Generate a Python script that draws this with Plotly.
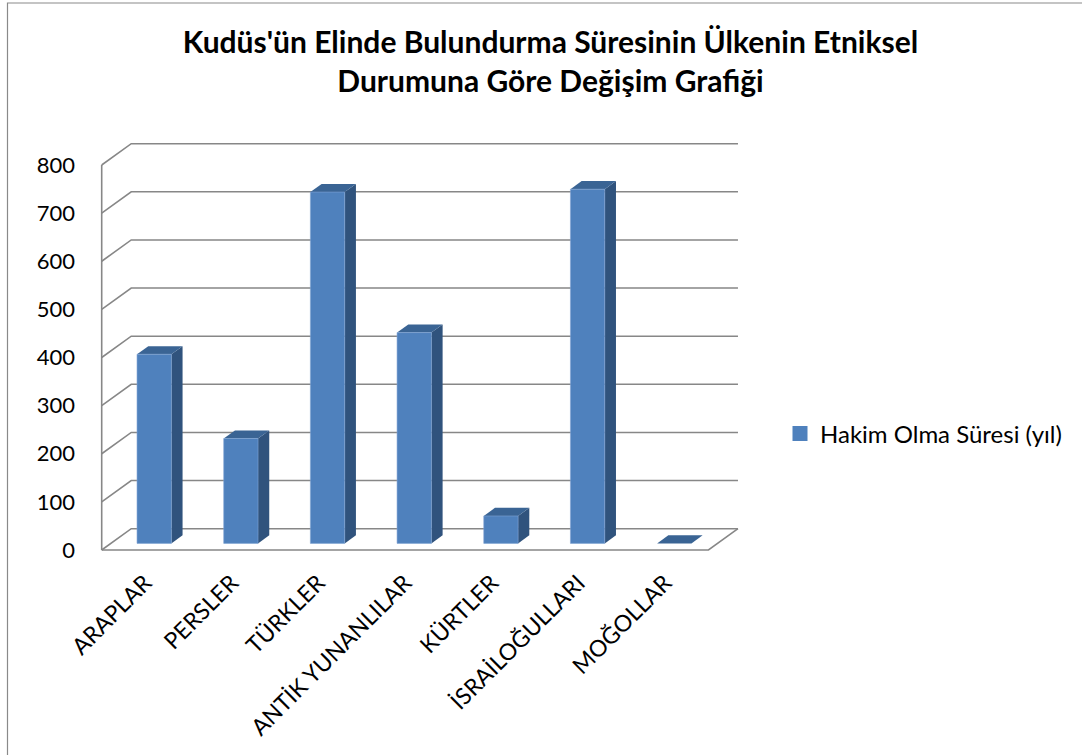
import plotly.graph_objects as go

# ---- data ----
categories = ["ARAPLAR", "PERSLER", "TÜRKLER", "ANTİK YUNANLILAR", "KÜRTLER", "İSRAİLOĞULLARI", "MOĞOLLAR"]
values = [393, 218, 730, 438, 57, 736, 0]
series_name = "Hakim Olma Süresi (yıl)"
y_ticks = [0, 100, 200, 300, 400, 500, 600, 700, 800]
title_lines = ["Kudüs'ün Elinde Bulundurma Süresinin Ülkenin Etniksel", "Durumuna Göre Değişim Grafiği"]

# ---- styling / geometry ----
W, H = 1082, 755
FONT = "Lato"
GRID = "#878787"
FRONT = "#4F81BD"
SIDE = "#30537D"
TOP = "#3A6494"

n = len(categories)
YMAX = y_ticks[-1]
DX = 0.3406   # depth offset in category units
DY = 44.3     # depth offset in value units
BAR_W = 0.396
F0, DEPTH = 0.31, 0.38

# pixel calibration
ML, MR, MT, MB = 92, 334, 136, 198
X0PX, PX_PER_SLOT = 101.7, 86.68
Y0PX, PX_PER_UNIT = 550.0, 0.48125
plot_l, plot_r = ML, W - MR
plot_t, plot_b = MT, H - MB
xr = [(plot_l - X0PX) / PX_PER_SLOT, (plot_r - X0PX) / PX_PER_SLOT]
yr = [(Y0PX - plot_b) / PX_PER_UNIT, (Y0PX - plot_t) / PX_PER_UNIT]

fig = go.Figure()

# walls / grid
gx, gy = [], []
for v in y_ticks:
    gx += [0, DX, n + DX, None]
    gy += [v, v + DY, v + DY, None]
gx += [0, 0, None, 0, n, n + DX, None]
gy += [0, YMAX, None, 0, 0, DY, None]
fig.add_trace(go.Scatter(x=gx, y=gy, mode="lines", line=dict(color=GRID, width=1.6),
                         hoverinfo="skip", showlegend=False))

# 3D bars
for i, v in enumerate(values):
    xl = i + 0.5 + F0 * DX - BAR_W / 2
    xrr = xl + BAR_W
    y0 = F0 * DY
    ddx, ddy = DEPTH * DX, DEPTH * DY
    # side
    fig.add_trace(go.Scatter(x=[xrr, xrr + ddx, xrr + ddx, xrr, xrr],
                             y=[y0, y0 + ddy, y0 + ddy + v, y0 + v, y0],
                             fill="toself", fillcolor=SIDE, mode="lines",
                             line=dict(width=0, color=SIDE), hoverinfo="skip", showlegend=False))
    # top
    fig.add_trace(go.Scatter(x=[xl, xrr, xrr + ddx, xl + ddx, xl],
                             y=[y0 + v, y0 + v, y0 + v + ddy, y0 + v + ddy, y0 + v],
                             fill="toself", fillcolor=TOP, mode="lines",
                             line=dict(width=0, color=TOP), hoverinfo="skip", showlegend=False))
    # front
    if v > 0:
        fig.add_trace(go.Scatter(x=[xl, xrr, xrr, xl, xl],
                                 y=[y0, y0, y0 + v, y0 + v, y0],
                                 fill="toself", fillcolor=FRONT, mode="lines",
                                 line=dict(width=0.6, color="#7FA3D4"),
                                 name=categories[i], hoverinfo="skip", showlegend=False))

# legend entry
fig.add_trace(go.Scatter(x=[None], y=[None], mode="markers", name=series_name,
                         marker=dict(symbol="square", size=15, color=FRONT)))

fig.update_layout(
    width=W, height=H,
    paper_bgcolor="white", plot_bgcolor="white",
    margin=dict(l=ML, r=MR, t=MT, b=MB, autoexpand=False),
    font=dict(family=FONT, color="black", size=21),
    title=dict(text="<b>" + "<br>".join(title_lines) + "</b>",
               xref="container", yref="container", x=550.5 / W, xanchor="center",
               y=1 - 53 / H, yanchor="middle", font=dict(family=FONT, size=30, color="black")),
    showlegend=True,
    legend=dict(xref="container", yref="container", x=780 / W, y=1 - 434 / H,
                xanchor="left", yanchor="middle", font=dict(size=24, family=FONT),
                bgcolor="rgba(0,0,0,0)"),
    xaxis=dict(range=xr, showgrid=False, zeroline=False, showline=False,
               tickmode="array", tickvals=[i + 0.5 for i in range(n)], ticktext=categories,
               tickangle=-45, ticks="", ticklabelstandoff=7, fixedrange=True,
               tickfont=dict(size=23, family=FONT)),
    yaxis=dict(range=yr, showgrid=False, zeroline=False, showline=False,
               tickmode="array", tickvals=y_ticks, ticktext=[str(t) for t in y_ticks],
               ticks="", ticklabelstandoff=16, fixedrange=True,
               tickfont=dict(size=22, family=FONT)),
    shapes=[dict(type="rect", xref="paper", yref="paper",
                 x0=(7.5 - plot_l) / (plot_r - plot_l), x1=(W + 10 - plot_l) / (plot_r - plot_l),
                 y0=(plot_b - (H + 10)) / (plot_b - plot_t), y1=(plot_b - 3) / (plot_b - plot_t),
                 line=dict(color="#8a8a8a", width=1.2), fillcolor="rgba(0,0,0,0)", layer="below")],
)

fig.write_html("out.html", config={"displayModeBar": False},
               post_script="document.body.style.margin='0px';")
